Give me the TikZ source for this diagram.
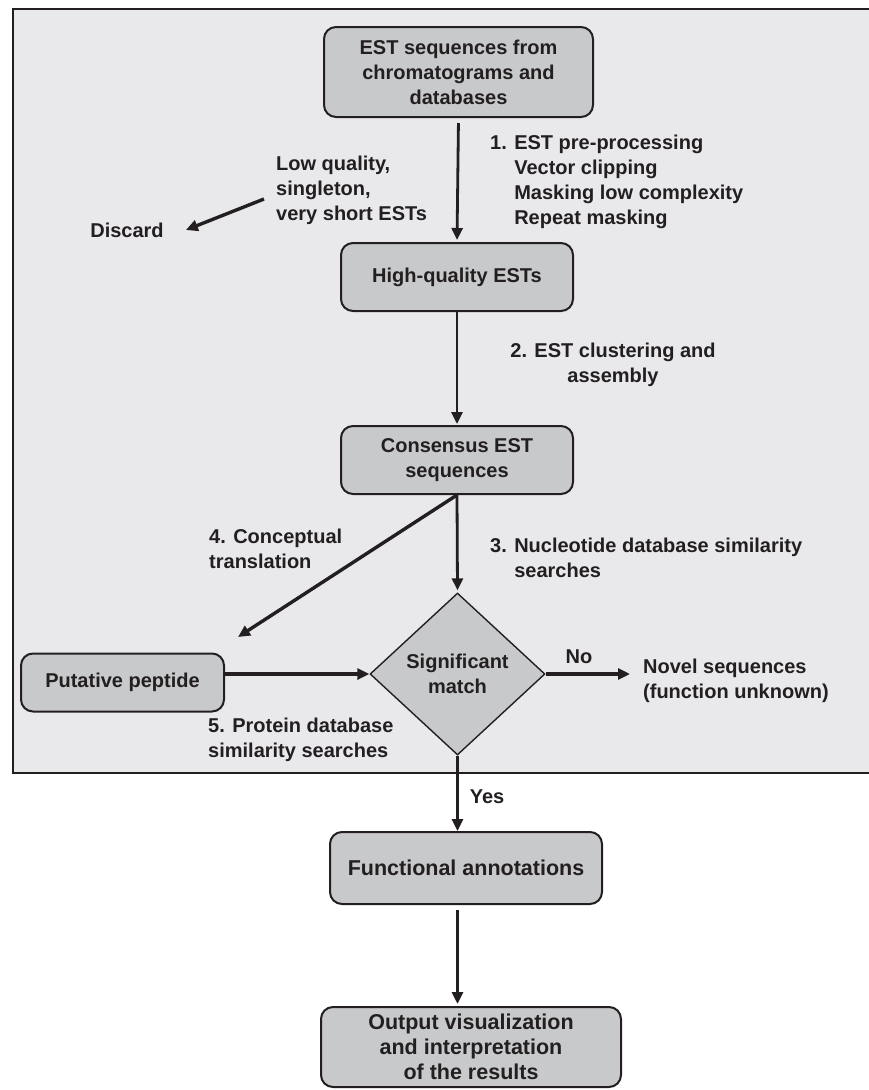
\documentclass[tikz,border=0pt]{standalone}
\usepackage{fontspec}
\newfontfamily\lsans{Liberation Sans}
\usetikzlibrary{arrows.meta,shapes.geometric}
\definecolor{bg}{HTML}{E9E9EB}
\definecolor{boxfill}{HTML}{C8C9CB}
\definecolor{ink}{HTML}{231F20}
\newcommand\topfont{\lsans\bfseries\fontsize{20}{25}\selectfont}
\newcommand\botfont{\lsans\bfseries\fontsize{21.5}{25}\selectfont}
\begin{document}
\begin{tikzpicture}[x=1pt,y=-1pt,
  box/.style={draw=ink, fill=boxfill, line width=2pt, rounded corners=12pt, align=center, font=\topfont, text=ink, inner sep=0pt},
  lbl/.style={align=left, font=\topfont, text=ink, inner sep=0pt},
  arr/.style={draw=ink, line width=2.8pt, -{Triangle[length=12pt,width=11pt]}},
  thickarr/.style={arr, line width=3.4pt}]
\useasboundingbox (0,0) rectangle (868,1090);
\draw[draw=ink, line width=2.4pt, fill=bg] (13,9) rectangle (880,773);
% boxes
\node[box, minimum width=269pt, minimum height=90pt] (b1) at (458.5,72) {EST sequences from\\chromatograms and\\databases};
\node[box, minimum width=232pt, minimum height=68pt] (b2) at (457,277) {High-quality ESTs};
\node[box, minimum width=232pt, minimum height=68pt] (b3) at (457,460) {Consensus EST\\sequences};
\node[diamond, draw=ink, fill=boxfill, line width=1.4pt, minimum width=175pt, minimum height=162pt, inner sep=0pt, align=center, font=\topfont, text=ink] (dia) at (457.5,674) {Significant\\match};
\node[box, minimum width=203pt, minimum height=58pt] (put) at (122.5,682.5) {Putative peptide};
\node[box, font=\botfont, minimum width=272pt, minimum height=72pt] (func) at (466,868) {Functional annotations};
\node[box, font=\botfont, minimum width=300pt, minimum height=80pt] (out) at (471,1047) {Output visualization\\and interpretation\\of the results};
% labels
\node[lbl, anchor=west] (s1) at (490,181.5) {1. EST pre-processing\\\phantom{1. }Vector clipping\\\phantom{1. }Masking low complexity\\\phantom{1. }Repeat masking};
\node[lbl, anchor=west] (lowq) at (276,190) {Low quality,\\singleton,\\very short ESTs};
\node[lbl] (discard) at (127,230) {Discard};
\node[lbl, align=center] (s2) at (613,365) {2. EST clustering and\\assembly};
\node[lbl, anchor=west] (s4) at (209,548.5) {4. Conceptual\\translation};
\node[lbl, anchor=west] (s3) at (490,558) {3. Nucleotide database similarity\\\phantom{1. }searches};
\node[lbl, anchor=west] (s5) at (208,740) {5. Protein database\\similarity searches};
\node[lbl] (no) at (579,657) {No};
\node[lbl, anchor=west] (novel) at (643,681) {Novel sequences\\(function unknown)};
\node[lbl] (yes) at (487,797) {Yes};
\coordinate (ptip) at (238,637);
% connectors
\draw[arr, shorten <=5pt, shorten >=2pt] (b1.south) -- (b2.north);
\draw[arr, shorten >=1pt] (b2.south) -- (b3.north);
\draw[arr, shorten >=2pt] (b3.south) -- (dia.north);
\draw[thickarr] (b3.south) -- (ptip);
\draw[thickarr] ([xshift=-12pt,yshift=-9pt]lowq.west) -- ([xshift=22pt]discard.east);
\draw[thickarr] (put.east |- dia.west) -- (dia.west);
\draw[thickarr, shorten >=13pt] (dia.east) -- (dia.east -| novel.west);
\draw[arr] (dia.south) -- (dia.south |- func.north);
\draw[thickarr, shorten <=5pt, shorten >=2pt] (func.south -| dia.south) -- (out.north -| dia.south);
\end{tikzpicture}
\end{document}
